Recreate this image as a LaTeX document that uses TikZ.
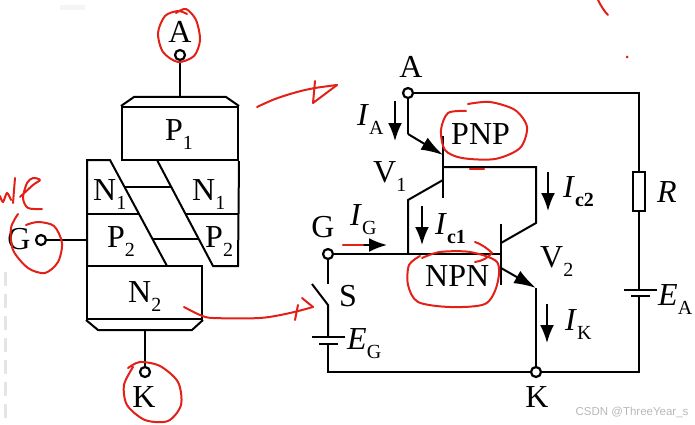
\documentclass[tikz,border=0pt]{standalone}
\usepackage{fontspec}
\setmainfont{Liberation Serif}
\newfontfamily\markfont{Liberation Sans}
\usetikzlibrary{positioning, arrows.meta}
\newcommand{\Sub}[2]{#1\raisebox{-9.5pt}{\fontsize{20}{20}\selectfont #2}}
\tikzstyle{Wire}=[line width=2pt, line join=miter]
\tikzstyle{Layer}=[rectangle, draw, line width=2pt, inner sep=0pt, font=\fontsize{32}{32}\selectfont]
\tikzstyle{Terminal}=[circle, draw, fill=white, line width=2.2pt, minimum size=10pt, inner sep=0pt]
\tikzstyle{Label}=[inner sep=0pt, anchor=base west, font=\fontsize{32}{32}\selectfont]
\tikzstyle{LabelMid}=[inner sep=0pt, anchor=base, font=\fontsize{32}{32}\selectfont]
\tikzstyle{Flecha}=[-{Latex[length=18pt, width=14pt]}, line width=2pt]
\tikzstyle{Resistor}=[rectangle, draw, fill=white, line width=2pt, minimum width=12pt, minimum height=39pt, inner sep=0pt]
\tikzstyle{Pen}=[draw=penred, line width=2pt, line cap=round, line join=round]
\definecolor{penred}{RGB}{226,32,24}

\begin{document}
\begin{tikzpicture}[x=1pt, y=-1pt]
	\useasboundingbox (0,0) rectangle (695,425);
	%Structure
	\node[Layer, minimum width=116pt, minimum height=53pt] (boxP1) at (180,133.5) {};
	\node[Layer, minimum width=115pt, minimum height=53pt] (boxN2) at (144.5,292.5) {};
	\node[Label] (labelP1) at (165,140) {\Sub{P}{1}};
	\node[Label] (labelN2) at (128,302) {\Sub{N}{2}};
	\node[Label] (labelN1a) at (93,200) {\Sub{N}{1}};
	\node[Label] (labelN1b) at (192,200) {\Sub{N}{1}};
	\node[Label] (labelP2a) at (107,247) {\Sub{P}{2}};
	\node[Label] (labelP2b) at (205,247) {\Sub{P}{2}};

	\node[Terminal] (anodeA) at (180,55) {};
	\node[Terminal] (gateG) at (41,240) {};
	\node[Terminal] (cathodeK) at (145,372) {};
	\node[LabelMid] (labelA) at (180,43) {A};
	\node[LabelMid] (labelG) at (19,249) {G};
	\node[LabelMid] (labelK) at (144,407) {K};

	\draw[Wire] (boxP1.north west) -- (134,97) -- (226,97) -- (boxP1.north east);
	\draw[Wire] (boxN2.south west) -- (98,330) -- (192,330) -- (boxN2.south east);
	\draw[Wire] (boxP1.south east) -- (238,266) -- (213,266) -- (157,160);
	\draw[Wire] (87,266) -- (87,160) -- (110,160) -- (167,266);
	\draw[Wire] (87,214) -- (139,214);
	\draw[Wire] (186,214) -- (238,214);
	\draw[Wire] (125,187) -- (171,187);
	\draw[Wire] (153,239) -- (199,239);
	\draw[Wire] (anodeA) -- (180,97);
	\draw[Wire] (gateG) -- (87,240);
	\draw[Wire] (cathodeK) -- (145,330);

	%Circuit nodes
	\node[Terminal] (termA) at (408,93) {};
	\node[Terminal] (termG) at (328,254) {};
	\node[Terminal] (termK) at (536,372) {};
	\node[Resistor] (resR) at (639,191.5) {};
	\coordinate (cornerTR) at (639,93);
	\coordinate (cornerBR) at (639,372);
	\coordinate (cornerBL) at (328,372);
	\coordinate (baseV1) at (443,167);
	\coordinate (emitV1) at (443,155);
	\coordinate (baseV2) at (501,254);
	\coordinate (emitV2) at (536,288);
	\coordinate (jointG) at (408,254);

	%Lines
	\draw[Wire] (termA) -- (cornerTR) -- (resR.north);
	\draw[Wire] (resR.south) -- (639,290);
	\draw[Wire] (624,290) -- (657,290);
	\draw[Wire] (631,296) -- (650,296);
	\draw[Wire] (639,296) -- (cornerBR) -- (termK);
	\draw[Wire] (termK) -- (cornerBL) -- (328,344);
	\draw[Wire] (319,344) -- (338,344);
	\draw[Wire] (312,337) -- (345,337);
	\draw[Wire] (328,337) -- (328,305) -- (312,284);
	\draw[Wire] (termG) -- (328,284);
	\draw[Wire] (termG) -- (baseV2);
	\draw[Wire] (jointG) -- (408,200) -- (443,180);
	\draw[Wire] (443,136) -- (443,198);
	\draw[Wire] (termA) -- (408,134);
	\draw[Wire, -{Latex[length=22pt, width=14pt]}] (408,134) -- (emitV1);
	\draw[Wire] (baseV1) -- (536,167) -- (536,223) -- (501,243);
	\draw[Wire] (501,224) -- (501,285);
	\draw[Wire, -{Latex[length=22pt, width=14pt]}] (501,268) -- (emitV2);
	\draw[Wire] (emitV2) -- (termK);

	%Currents
	\draw[Flecha] (395,101) -- (395,141);
	\draw[Flecha] (548,172) -- (548,211);
	\draw[Flecha] (422,206) -- (422,245);
	\draw[Flecha] (547,304) -- (547,343);
	\draw[Flecha] (361,245) -- (387,245);

	%Labels
	\node[LabelMid] (labelA2) at (411,78) {A};
	\node[LabelMid] (labelG2) at (323,237) {G};
	\node[LabelMid] (labelK2) at (537,407) {K};
	\node[Label] (labelIA) at (357,125) {\Sub{\textit{I}}{A}};
	\node[Label] (labelIG) at (350,225) {\Sub{\textit{I}}{G}};
	\node[Label] (labelIc1) at (435,234) {\Sub{\textit{I}}{\textbf{c1}}};
	\node[Label] (labelIc2) at (563,197) {\Sub{\textit{I}}{\textbf{c2}}};
	\node[Label] (labelIK) at (565,330) {\Sub{\textit{I}}{K}};
	\node[Label] (labelV1) at (373,182) {\Sub{V}{1}};
	\node[Label] (labelV2) at (540,267) {\Sub{V}{2}};
	\node[Label] (labelPNP) at (451,144) {PNP};
	\node[Label] (labelNPN) at (425,286) {NPN};
	\node[Label] (labelR) at (657,202) {\textit{R}};
	\node[Label] (labelS) at (339,306) {S};
	\node[Label] (labelEG) at (347,349) {\Sub{\textit{E}}{G}};
	\node[Label] (labelEA) at (658,305) {\Sub{\textit{E}}{A}};
	\node[text=black!28, inner sep=0pt, font=\markfont\fontsize{11.5}{11.5}\selectfont] (markText) at (632,412) {CSDN @ThreeYear\_s};

	%Pen marks
	\draw[Pen] plot[smooth] coordinates {(176,13) (186,9) (196,20) (200,40) (194,56) (178,62) (163,52) (158,33) (165,16) (178,11) (187,14)};
	\draw[Pen] plot[smooth] coordinates {(18,214) (11,228) (13,250) (28,268) (45,273) (58,262) (62,243) (54,226) (38,222) (26,225)};
	\draw[Pen] plot[smooth] coordinates {(133,367) (124,385) (127,405) (145,420) (168,421) (181,405) (178,382) (160,366) (140,362) (128,368)};
	\draw[Pen] plot[smooth] coordinates {(466,111) (448,113) (441,130) (445,150) (462,158) (495,159) (520,148) (527,127) (515,110) (490,102) (468,104)};
	\draw[Pen] plot[smooth] coordinates {(420,256) (409,265) (408,285) (418,302) (450,307) (485,304) (497,285) (497,262) (470,252) (440,252) (422,258)};
	\draw[Pen] (475,242) .. controls (483,245) and (488,249) .. (492,253) .. controls (488,258) and (482,261) .. (475,262);
	\draw[Pen, line width=2.4pt] (470,169) -- (484,169);
	\draw[Pen, line width=2.4pt] (343,245) -- (363,245);
	\draw[Pen] plot[smooth] coordinates {(257,107) (275,99) (297,92) (315,88) (337,85)};
	\draw[Pen] (315,81) -- (313,103) -- (337,85);
	\draw[Pen] plot[smooth] coordinates {(184,307) (200,315) (213,318) (260,318) (290,313) (313,307)};
	\draw[Pen] (302,298) -- (313,307);
	\draw[Pen] (298,305) -- (295,320);
	\draw[Pen] plot[smooth] coordinates {(0,196) (3,202) (7,193) (11,200)};
	\draw[Pen] (15,178) -- (13,203);
	\draw[Pen] plot[smooth] coordinates {(20,197) (33,185) (40,180) (33,178) (27,183) (23,198) (28,208) (42,209)};
	\draw[Pen] (598,0) .. controls (601,6) and (604,11) .. (608,15);
	\fill[penred] (627,57) circle (1.5pt);

	%Scan marks
	\draw[black!10, line width=3pt, dash pattern=on 14pt off 8pt] (5,272) -- (5,425);
	\draw[black!4, line width=5pt] (60,8) -- (85,8);
\end{tikzpicture}
\end{document}
